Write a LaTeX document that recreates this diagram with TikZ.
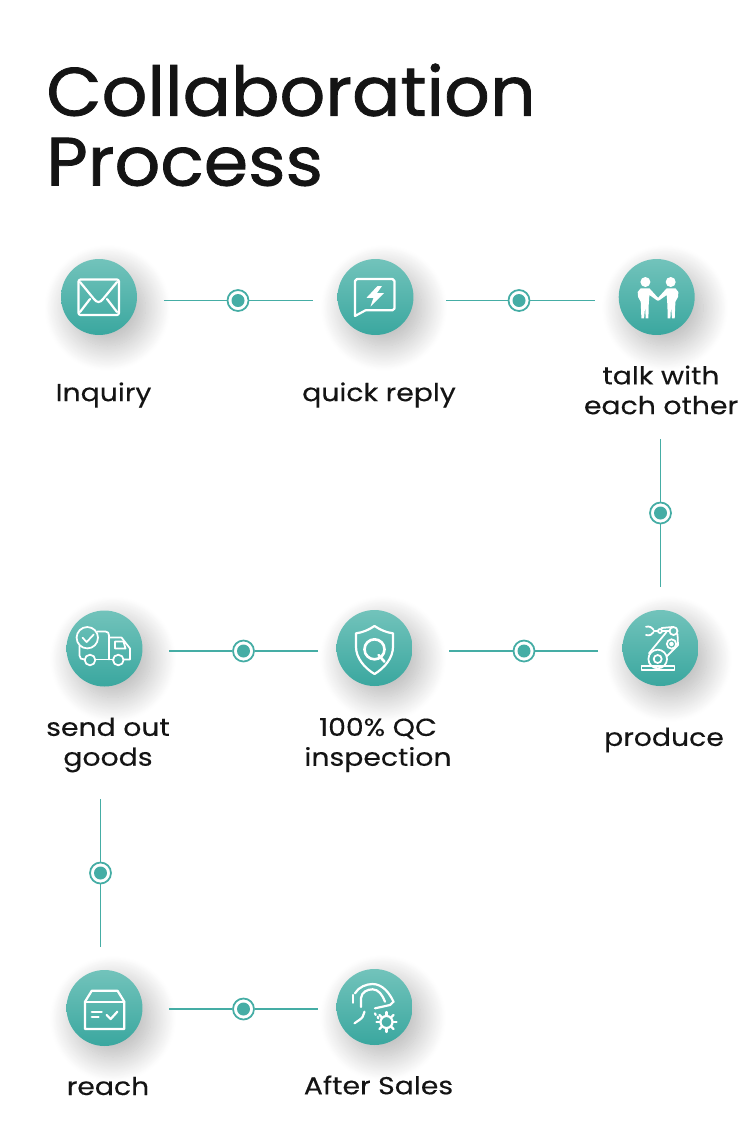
\documentclass[tikz,border=0pt]{standalone}
\usepackage{fontspec}
\setmainfont{Poppins}
\newfontfamily\titlefont[FakeStretch=1.045, FakeBold=1.1]{Poppins}
\newfontfamily\stepfont[FakeStretch=1.15, FakeBold=0.3]{Poppins}
\usetikzlibrary{shadows.blur}
\definecolor{tealline}{HTML}{45ADA5}
\definecolor{tealtop}{HTML}{72C3BB}
\definecolor{tealbot}{HTML}{3AA79F}
\definecolor{inkblack}{HTML}{141414}
\tikzset{
	stepdisc/.style={circle, minimum size=1.52cm, inner sep=0pt, top color=tealtop, bottom color=tealbot, draw=none,
		blur shadow={shadow xshift=0.17cm, shadow yshift=-0.22cm, shadow blur radius=0.5cm, shadow blur steps=30, shadow opacity=30}},
	linkdot/.style={circle, minimum size=0.42cm, inner sep=0pt, fill=white, draw=tealline, line width=1pt, path picture={\fill[tealline] (path picture bounding box.center) circle (0.13cm);}},
	linkline/.style={draw=tealline, line width=1pt},
	steplabel/.style={text=inkblack, font=\stepfont\fontsize{14}{17}\selectfont, align=center, inner sep=0pt},
	titlelabel/.style={text=inkblack, font=\titlefont\fontsize{39}{41}\selectfont, anchor=west, inner sep=0pt},
	iconline/.style={draw=white, line width=1.25pt, line join=round, line cap=round, fill=none},
	fineline/.style={iconline, line width=1pt},
	mailicon/.pic={
		\draw[iconline, rounded corners=1.2pt] (-20.5,-17.5) rectangle (20,18); % envelope
		\draw[iconline] (-19,-15) -- (-5,2) .. controls (-2,6) and (1,6) .. (4,2) -- (18,-15); % flap
		\draw[iconline] (-19,15) -- (-9,2);
		\draw[iconline] (18,15) -- (8,2);
	},
	replyicon/.pic={
		\draw[iconline] (-20.5,-16) -- (-20.5,19) -- (-10,13.3) -- (17,13.3) -- (19,11.5) -- (19,-16) -- (17,-18) -- (-18.5,-18) -- cycle;
		\fill[white] (2,-11) -- (-9,.8) -- (-2,.8) -- (-5,9.5) -- (8.5,-4) -- (1.5,-4) -- (6.5,-11) -- cycle; % bolt
	},
	personshape/.pic={
		\fill[white] (0,-15) circle (5);
		\fill[white] (-4.7,-8.7) -- (4,-8.7) -- (14,2.3) -- (12,3.7) -- (4,-2) -- (3.3,8) -- (3,21.3) -- (.3,21.3) -- (-.3,9.7) -- (-1.3,21.3) -- (-4,21.3) -- (-4.7,4.7) -- (-7.3,0) -- (-7.7,-5) -- cycle;
	},
	peopleicon/.pic={
		\pic at (-11.3,0) {personshape};
		\pic[xscale=-1] at (14,0) {personshape};
	},
	truckicon/.pic={
		\draw[fineline] (-17.2,-10.8) circle (10.7); % check badge
		\draw[fineline] (-22,-10.8) -- (-17.8,-6.5) -- (-10.8,-14);
		\draw[fineline] (-25,-2.5) -- (-25,7) .. controls (-25,10) and (-23,11) .. (-20,11); % cargo box
		\draw[fineline] (-8,11) -- (9,11);
		\draw[fineline] (-7,-17) -- (1,-17) .. controls (3.5,-17) and (4.5,-15.5) .. (4.5,-13) -- (4.5,11);
		\draw[fineline] (4.5,-11) -- (17,-11) -- (25.5,0) -- (25.5,11) -- (19,11); % cab
		\draw[fineline] (10.5,-7) -- (19,-7) -- (21,0) -- (10.5,0) -- cycle;
		\draw[fineline] (-14.5,11.5) circle (5.3);
		\draw[fineline] (13.8,11.5) circle (5.3);
	},
	shieldicon/.pic={
		\draw[iconline] (0,-22) .. controls (-6,-18) and (-12,-15.5) .. (-18.5,-14.7) -- (-18.5,-1.3) .. controls (-18.5,10) and (-10,20) .. (0,26) .. controls (10,20) and (18.5,10) .. (18.5,-1.3) -- (18.5,-14.7) .. controls (12,-15.5) and (6,-18) .. cycle;
		\draw[iconline, line width=1.5pt] (0,1.3) circle (10);
		\draw[iconline, line width=1.5pt] (4,7) -- (10,13.7);
	},
	roboticon/.pic={
		\draw[fineline] (-19,18) rectangle (14,22); % base
		\draw[fineline] (-2.8,11) circle (9.3);
		\draw[fineline] (-2.8,11) circle (4);
		\draw[fineline] (11,-4) circle (4.7);
		\draw[fineline] (11,-4) circle (1.6);
		\draw[fineline] (-11.5,5.3) -- (6,-16); % arm
		\draw[fineline] (6,8.7) -- (17.5,-3) -- (17,-14);
		\draw[fineline] (13,-17) circle (4);
		\draw[fineline] (-0.5,-17) circle (2);
		\draw[fineline] (1,-20) -- (12,-21);
		\draw[fineline] (1.5,-17) -- (9,-17);
		\draw[fineline] (-14.5,-21.3) .. controls (-11,-22) and (-8,-20.5) .. (-7,-18.5); % gripper
		\draw[fineline] (-14.5,-13) .. controls (-11,-12) and (-8,-13.5) .. (-7,-15.7);
		\draw[fineline] (-7,-17) -- (-2.5,-17);
	},
	boxicon/.pic={
		\draw[iconline] (-12.7,-17.3) -- (13,-17.3) -- (19.8,-6.3) -- (19.8,21) -- (-19.5,21) -- (-19.5,-6.3) -- cycle;
		\draw[iconline] (-19.5,-6.3) -- (19.8,-6.3);
		\draw[iconline] (-12.7,4.3) -- (-2.8,4.3);
		\draw[iconline] (-12.7,9.3) -- (-6,9.3);
		\draw[iconline] (2.2,7) -- (6.2,11) -- (12.8,3.7);
	},
	serviceicon/.pic={
		\draw[iconline] (-21.8,-12) -- (-21.8,-4.3); % ear
		\draw[iconline] (-19.5,-13.7) .. controls (-16,-20) and (-8,-23) .. (-2,-23) .. controls (8,-23) and (15,-14) .. (19,-5.3); % headset
		\draw[iconline] (19,-5.3) -- (15.5,-2) -- (0.5,1.3);
		\draw[iconline] (-13.5,0) -- (-13.5,-9) .. controls (-13,-15) and (-7,-17.7) .. (-2,-17.7) .. controls (4,-17.7) and (8,-12) .. (10.5,-5.3);
		\draw[iconline] (-10,4.7) -- (-11.8,9.7) .. controls (-13,12) and (-17,14) .. (-20,16.3); % shoulder
		\draw[iconline] (.5,6.3) -- (1.2,8);
		\draw[iconline] (3.2,9.7) -- (3.8,11.3);
		\draw[iconline] (12,15) circle (6); % gear
		\foreach \gearangle in {0,45,...,315}
			\draw[iconline] (12,15) ++(\gearangle:6.5) -- ++(\gearangle:3.5);
	},
}
\begin{document}
\begin{tikzpicture}[x=0.02cm, y=-0.02cm]
	\useasboundingbox (0,0) rectangle (750,1133);
	
	%	Title
	\node[titlelabel] (titleA) at (46,90) {Collaboration};
	\node[titlelabel] (titleB) at (46,162) {Process};
	
	%	Step discs
	\node[stepdisc] (inquiry) at (99,297) {};
	\node[stepdisc] (reply) at (375.5,297) {};
	\node[stepdisc] (talk) at (656.7,297) {};
	\node[stepdisc] (produce) at (660.5,648) {};
	\node[stepdisc] (qc) at (374.5,648) {};
	\node[stepdisc] (goods) at (104.5,648.5) {};
	\node[stepdisc] (reach) at (104.5,1008) {};
	\node[stepdisc] (sales) at (374.5,1007) {};
	
	%	Icons
	\pic at (inquiry) {mailicon};
	\pic at (reply) {replyicon};
	\pic at (talk) {peopleicon};
	\pic at (produce) {roboticon};
	\pic at (qc) {shieldicon};
	\pic at (goods) {truckicon};
	\pic at (reach) {boxicon};
	\pic at (sales) {serviceicon};
	
	%	Step labels
	\node[steplabel] (inquiryText) at (103.5,395) {Inquiry};
	\node[steplabel] (replyText) at (379,395) {quick reply};
	\node[steplabel] (talkText) at (661,390) {talk with\\each other};
	\node[steplabel] (produceText) at (664,740) {produce};
	\node[steplabel] (qcText) at (378,745) {100\% QC\\inspection};
	\node[steplabel] (goodsText) at (108,745) {send out\\goods};
	\node[steplabel] (reachText) at (108,1086) {reach};
	\node[steplabel] (salesText) at (378.5,1085) {After Sales};
	
	%	Link dots
	\node[linkdot] (dotA) at (238,300.5) {};
	\node[linkdot] (dotB) at (519,300.5) {};
	\node[linkdot] (dotC) at (660.5,513) {};
	\node[linkdot] (dotD) at (524,651) {};
	\node[linkdot] (dotE) at (243.5,651) {};
	\node[linkdot] (dotF) at (100.5,873) {};
	\node[linkdot] (dotG) at (243.5,1009) {};
	
	%	Top row
	\draw[linkline, shorten <=1.3cm] (inquiry |- dotA) -- (dotA);
	\draw[linkline, shorten >=1.25cm] (dotA) -- (dotA -| reply);
	\draw[linkline, shorten <=1.41cm] (reply |- dotB) -- (dotB);
	\draw[linkline, shorten >=1.24cm] (dotB) -- (dotB -| talk);
	
	%	Right column
	\draw[linkline, shorten <=2.84cm] (dotC |- talk) -- (dotC);
	\draw[linkline, shorten >=1.22cm] (dotC) -- (dotC |- produce);
	
	%	Middle row
	\draw[linkline, shorten <=1.25cm] (produce |- dotD) -- (dotD);
	\draw[linkline, shorten >=1.49cm] (dotD) -- (dotD -| qc);
	\draw[linkline, shorten <=1.13cm] (qc |- dotE) -- (dotE);
	\draw[linkline, shorten >=1.29cm] (dotE) -- (dotE -| goods);
	
	%	Left column
	\draw[linkline, shorten <=3.01cm] (dotF |- goods) -- (dotF);
	\draw[linkline, shorten >=1.22cm] (dotF) -- (dotF |- reach);
	
	%	Bottom row
	\draw[linkline, shorten <=1.29cm] (reach |- dotG) -- (dotG);
	\draw[linkline, shorten >=1.13cm] (dotG) -- (dotG -| sales);
\end{tikzpicture}
\end{document}
